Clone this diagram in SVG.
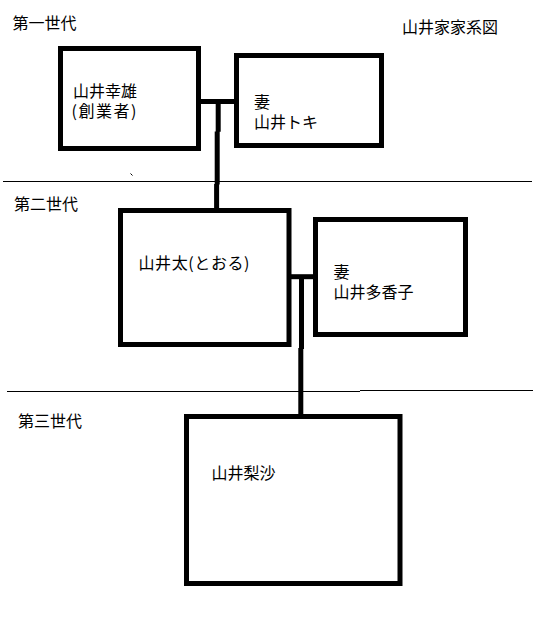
<svg xmlns="http://www.w3.org/2000/svg" width="533" height="642" viewBox="0 0 533 642">
  <style>
    .box { fill: #ffffff; stroke: #000000; stroke-width: 5; }
    .t { font-family: "Noto Sans CJK JP", "Noto Sans", sans-serif; font-size: 16px; fill: #000000; }
    .sep { stroke: #000000; stroke-width: 1; fill: none; }
    .conn { stroke: #000000; stroke-width: 5; fill: none; stroke-linecap: butt; }
  </style>
  <rect x="0" y="0" width="533" height="642" fill="#ffffff"/>

  <g id="labels">
    <text class="t" x="12.5" y="29">第一世代</text>
    <text class="t" x="402" y="33">山井家家系図</text>
    <text class="t" x="14" y="210">第二世代</text>
    <text class="t" x="18" y="427">第三世代</text>
  </g>

  <g id="separators">
    <line class="sep" x1="3" y1="181.5" x2="532" y2="181.5"/>
    <line class="sep" x1="7" y1="391.5" x2="360" y2="391.5"/>
    <line class="sep" x1="360" y1="390.5" x2="533" y2="390.5"/>
    <line class="sep" x1="130.5" y1="173.5" x2="132.5" y2="175.5"/>
  </g>

  <g id="connectors">
    <line class="conn" x1="200" y1="101.5" x2="235" y2="101.5"/>
    <path class="conn" d="M218.2 101 V131.8 M217.2 131.5 V184.5 M216.6 184 V214"/>
    <line class="conn" stroke-width="4.7" x1="290" y1="276.7" x2="314" y2="276.7"/>
    <path class="conn" d="M301.5 276 V349 M300.8 348 V420"/>
  </g>

  <g id="node-yukio">
    <rect class="box" x="60.5" y="48.5" width="138" height="100"/>
    <text class="t" x="73" y="97">山井幸雄<tspan x="71.5" y="117" textLength="65" lengthAdjust="spacing">(創業者)</tspan></text>
  </g>

  <g id="node-toki">
    <rect class="box" x="236.5" y="55.5" width="145" height="90"/>
    <text class="t" x="254" y="108">妻<tspan x="254" y="128">山井トキ</tspan></text>
  </g>

  <g id="node-tooru">
    <rect class="box" x="120.5" y="210.5" width="168.5" height="134"/>
    <text class="t" x="138.5" y="269" textLength="111" lengthAdjust="spacing">山井太(とおる)</text>
  </g>

  <g id="node-takako">
    <rect class="box" x="315.5" y="219.5" width="150" height="115"/>
    <text class="t" x="333.5" y="278">妻<tspan x="333.5" y="298">山井多香子</tspan></text>
  </g>

  <g id="node-risa">
    <rect class="box" x="186.5" y="416.5" width="213.5" height="167"/>
    <text class="t" x="211.5" y="479">山井梨沙</text>
  </g>
</svg>
